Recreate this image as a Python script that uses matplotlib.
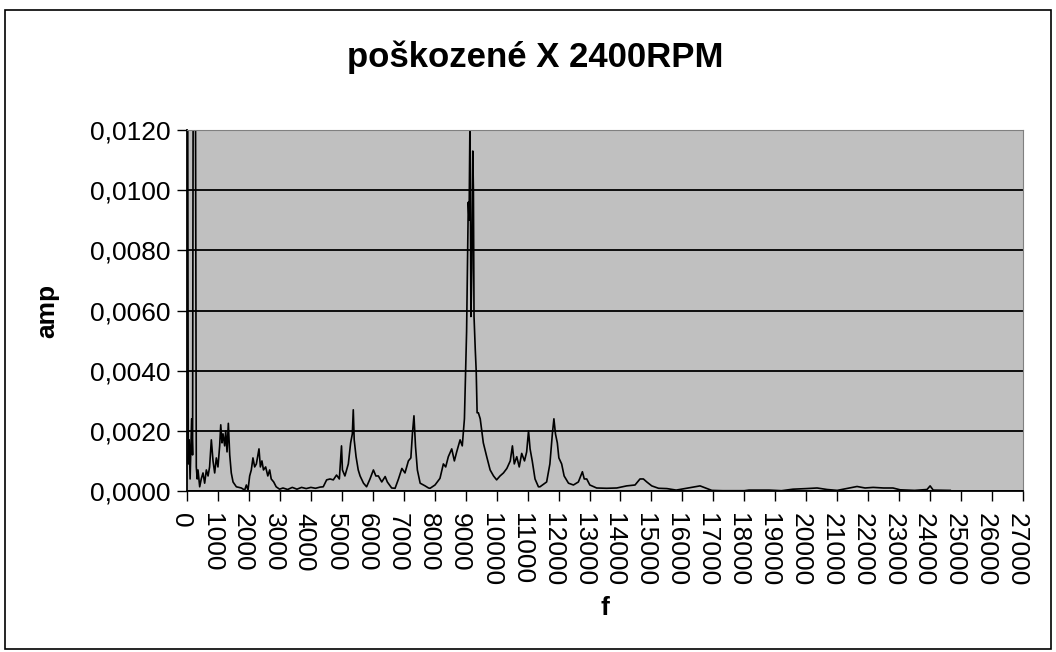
import matplotlib.pyplot as plt
import matplotlib.transforms as mtransforms
from matplotlib.patches import Rectangle
from matplotlib.ticker import FuncFormatter, MultipleLocator

plt.rcParams['font.family'] = ['Liberation Sans', 'DejaVu Sans']

# spectrum: frequency [Hz] and amplitude
freq = [0, 40, 70, 100, 150, 180, 210, 240, 270, 300, 330, 355, 410, 460, 517, 570,
        625, 680, 730, 786, 840, 894, 947, 1000, 1055, 1090, 1130, 1163, 1217, 1250,
        1293, 1335, 1380, 1430, 1487, 1594, 1755, 1863, 1917, 1970, 2024, 2077, 2130,
        2185, 2240, 2325, 2370, 2420, 2470, 2540, 2610, 2670, 2720, 2800, 2880, 2990,
        3100, 3250, 3400, 3550, 3700, 3850, 4000, 4150, 4300, 4400, 4510, 4620, 4725,
        4830, 4920, 4990, 5020, 5100, 5210, 5285, 5340, 5370, 5400, 5460, 5530, 5590,
        5700, 5800, 5910, 6020, 6100, 6180, 6290, 6400, 6470, 6610, 6720, 6830, 6940,
        7040, 7150, 7230, 7280, 7330, 7380, 7440, 7530, 7690, 7800, 7850, 8010, 8170,
        8280, 8355, 8440, 8550, 8635, 8710, 8820, 8890, 8960, 9000, 9030, 9050, 9085,
        9110, 9140, 9170, 9200, 9230, 9250, 9270, 9310, 9340, 9370, 9410, 9470, 9520,
        9570, 9680, 9790, 9900, 10000, 10110, 10220, 10330, 10440, 10510, 10570, 10650,
        10730, 10810, 10900, 10970, 11030, 11080, 11150, 11240, 11350, 11400, 11615,
        11720, 11800, 11850, 11900, 11960, 12010, 12100, 12180, 12320, 12480, 12640,
        12770, 12830, 12910, 13010, 13230, 13550, 13880, 14200, 14470, 14630, 14740,
        14850, 15010, 15230, 15500, 15800, 16080, 16300, 16570, 16800, 16950, 17300,
        18000, 18150, 18800, 19200, 19570, 20000, 20350, 20670, 21000, 21300, 21640,
        21900, 22160, 22500, 22800, 23030, 23500, 23900, 24000, 24100, 24650]
amp = [0.0300, 0.0009, 0.0017, 0.0004, 0.0024, 0.0012, 0.0200, 0.0180, 0.0150, 0.0008,
       0.0004, 0.0007, 0.00014, 0.0004, 0.0006, 0.00026, 0.0007, 0.0005, 0.0008, 0.0017,
       0.0010, 0.0006, 0.0011, 0.0008, 0.0015, 0.0022, 0.0016, 0.0019, 0.0015, 0.0020,
       0.0013, 0.00225, 0.0012, 0.0006, 0.0003, 0.00014, 0.0001, 0.00003, 0.0002, 0.00003,
       0.0005, 0.0007, 0.0011, 0.0008, 0.0009, 0.0014, 0.0008, 0.0010, 0.0007, 0.0008,
       0.0005, 0.0007, 0.0004, 0.0003, 0.00014, 0.00006, 0.0001, 0.00005, 0.00012, 0.00006,
       0.00012, 0.00008, 0.00012, 0.00009, 0.00013, 0.00014, 0.00037, 0.0004, 0.00037,
       0.00053, 0.0004, 0.0015, 0.0007, 0.0005, 0.0009, 0.0016, 0.0019, 0.0027, 0.0017,
       0.00114, 0.0007, 0.0005, 0.00026, 0.00014, 0.0004, 0.0007, 0.0005, 0.0005, 0.0003,
       0.00048, 0.0003, 0.0001, 0.00009, 0.0004, 0.00075, 0.0006, 0.0010, 0.0011, 0.0019,
       0.0025, 0.00148, 0.0007, 0.00026, 0.00017, 0.0001, 0.00009, 0.0002, 0.00042, 0.0009,
       0.0008, 0.00114, 0.0014, 0.0010, 0.0013, 0.0017, 0.0015, 0.0024, 0.0040, 0.0053,
       0.0068, 0.0096, 0.0090, 0.0125, 0.0058, 0.0074, 0.0113, 0.0100, 0.0058, 0.0047,
       0.0040, 0.0026, 0.0026, 0.0024, 0.0020, 0.0016, 0.00114, 0.0007, 0.0005, 0.00037,
       0.0005, 0.0006, 0.00075, 0.0010, 0.0015, 0.0009, 0.00114, 0.0008, 0.00125, 0.0010,
       0.0013, 0.0020, 0.0014, 0.0010, 0.0004, 0.00014, 0.00014, 0.0003, 0.0009, 0.0019,
       0.0024, 0.0019, 0.0016, 0.0011, 0.0009, 0.0005, 0.00026, 0.0002, 0.0003, 0.00064,
       0.0004, 0.0004, 0.0002, 0.0001, 0.00009, 0.0001, 0.00017, 0.0002, 0.0004, 0.0004,
       0.0003, 0.00017, 0.00009, 0.00008, 0.00003, 0.00008, 0.00012, 0.00017, 0.00008,
       0.00002, 0.00001, 0.00001, 0.00003, 0.00003, 0.00001, 0.00006, 0.00008, 0.0001,
       0.00005, 0.00002, 0.00008, 0.00015, 0.0001, 0.00012, 0.0001, 0.0001, 0.00004,
       0.00002, 0.00005, 0.00017, 0.00003, 0.00002]

fig = plt.figure(figsize=(10.56, 6.52), dpi=100)
fig.patches.append(Rectangle((5 / 1056, 3 / 652), 1046 / 1056, 639 / 652,
                             transform=fig.transFigure, fill=False,
                             edgecolor='black', linewidth=1.2))

ax = fig.add_axes([187 / 1056, 1 - 491 / 652, 836 / 1056, 361 / 652])
ax.set_facecolor('#c0c0c0')
ax.plot(freq, amp, color='black', linewidth=1.2)

ax.set_xlim(0, 27000)
ax.set_ylim(0, 0.012)
ax.xaxis.set_major_locator(MultipleLocator(1000))
ax.yaxis.set_major_locator(MultipleLocator(0.002))
ax.yaxis.set_major_formatter(FuncFormatter(lambda v, p: f'{v:.4f}'.replace('.', ',')))
ax.yaxis.grid(True, color='black', linewidth=1.3)
ax.set_axisbelow(True)

for side in ('top', 'right'):
    ax.spines[side].set_color('#808080')
ax.spines['left'].set_linewidth(1.3)
ax.spines['bottom'].set_linewidth(1.3)

ax.tick_params(axis='both', direction='out', length=7, width=1, labelsize=19)
ax.tick_params(axis='x', labelrotation=-90, pad=9)
ax.tick_params(axis='y', pad=5)
shift = mtransforms.ScaledTranslation(-6 / 100, 0, fig.dpi_scale_trans)
for lbl in ax.get_xticklabels():
    lbl.set_transform(lbl.get_transform() + shift)

ax.set_ylabel('amp', fontsize=19, fontweight='bold', labelpad=22)
ax.set_xlabel('f', fontsize=19, fontweight='bold', labelpad=7)
fig.text(0.507, 1 - 57 / 652, 'poškozené X 2400RPM', fontsize=25,
         fontweight='bold', ha='center', va='center')

fig.savefig('out.png', dpi=100)
